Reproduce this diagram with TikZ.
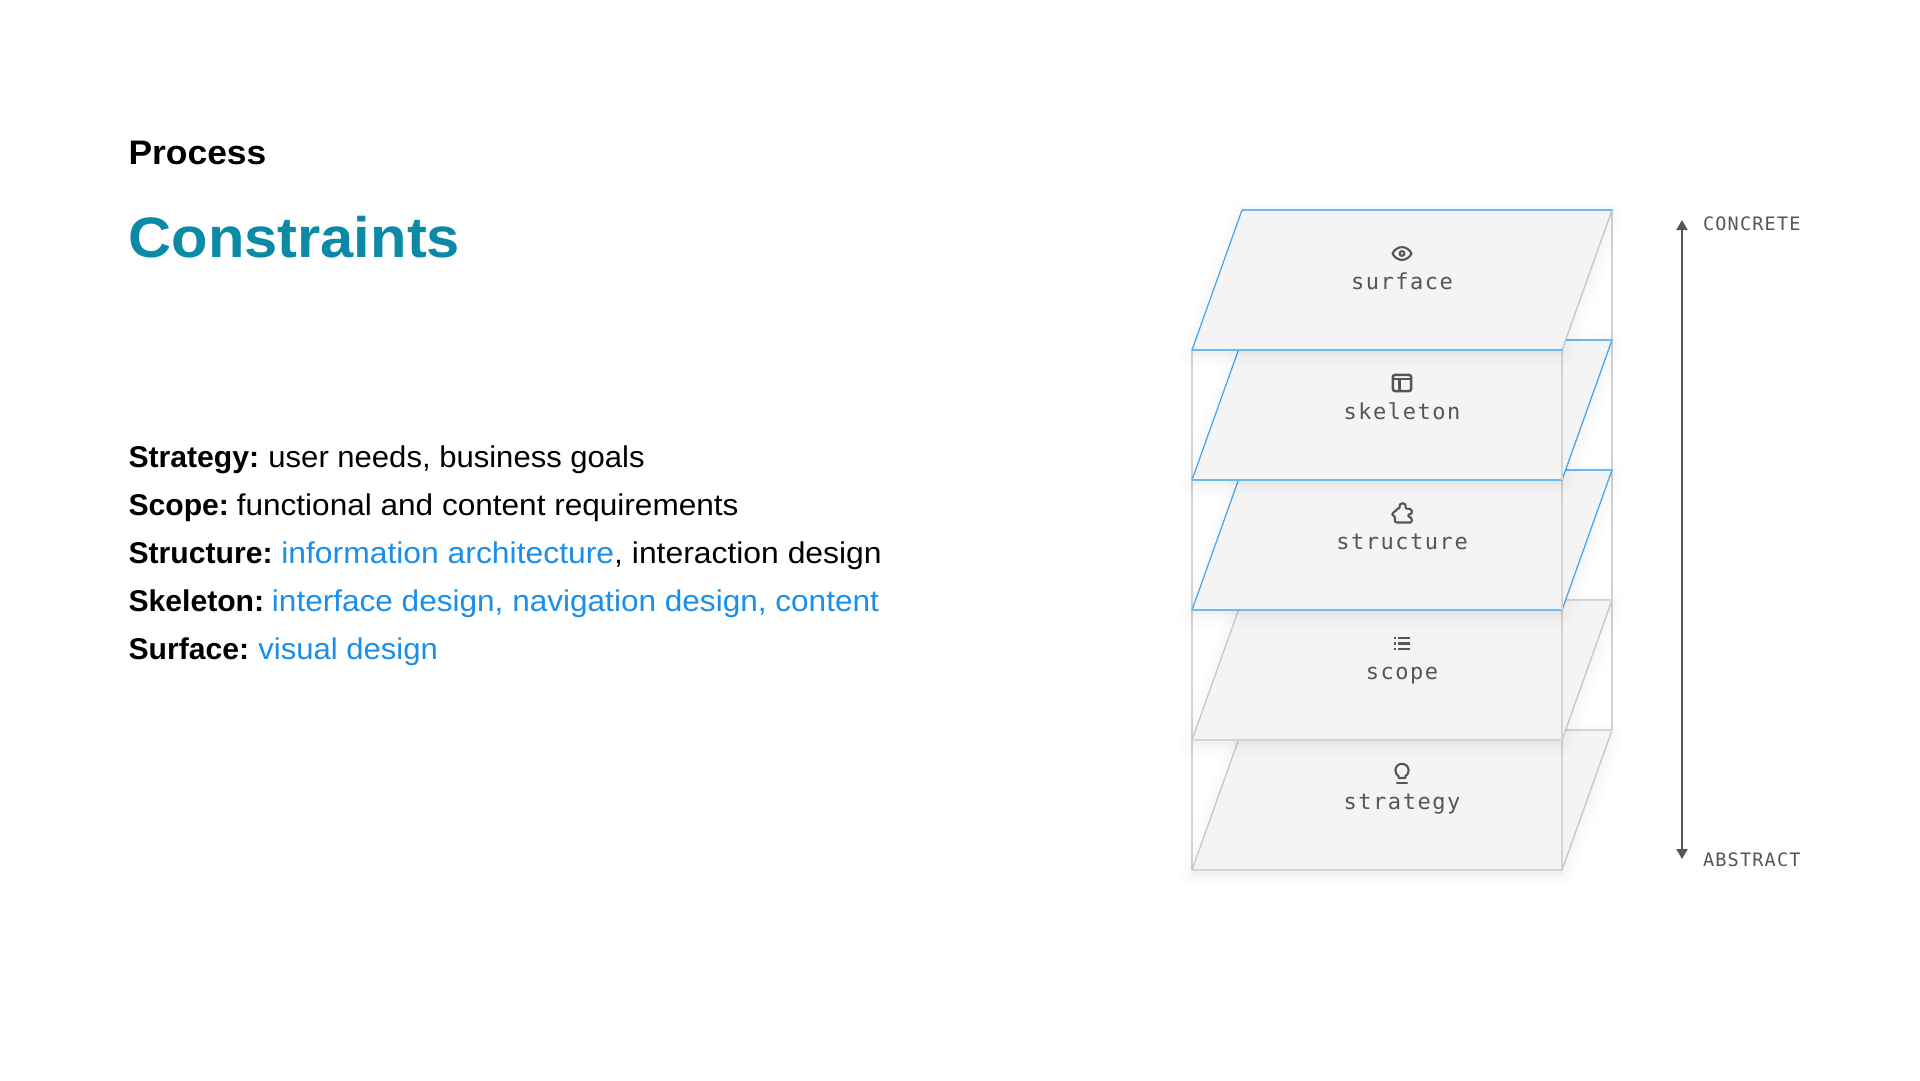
\documentclass[tikz,border=0pt]{standalone}
\usepackage{fontspec}
\usetikzlibrary{arrows.meta}
\setmainfont{Liberation Sans}[FakeStretch=1.052]
\newfontfamily\narrowf{Liberation Sans}[FakeStretch=1.035]
\newfontfamily\widef{Liberation Sans}[FakeStretch=1.062]
\newfontfamily\headf{Liberation Sans Bold}[FakeStretch=1.042]
\newfontfamily\titlef{Liberation Sans Bold}[FakeStretch=1.047]
\newfontfamily\strongf{Liberation Sans Bold}[FakeStretch=1.005]
\newfontfamily\monof{DejaVu Sans Mono}[LetterSpace=7]
\newfontfamily\monoc{DejaVu Sans Mono}[LetterSpace=6.5]
\newcommand{\lead}[1]{{\strongf #1}\kern-1pt\ }
\definecolor{teal1}{HTML}{0A8AA5}
\definecolor{link1}{HTML}{1A8FEA}
\definecolor{ink1}{HTML}{555555}
\definecolor{planefill}{HTML}{F4F4F4}
\definecolor{edgegray}{HTML}{D4D4D4}
\definecolor{diaggray}{HTML}{C4C4C4}
\definecolor{edgeblue}{HTML}{6CB8F0}
\definecolor{diagblue}{HTML}{45A3EE}
\tikzset{
  x=1pt,y=-1pt,
  txt/.style={anchor=base west,inner sep=0pt,outer sep=0pt},
  heading/.style={txt,font=\fontsize{34}{40}\selectfont\headf},
  title/.style={txt,font=\fontsize{57}{64}\selectfont\titlef,text=teal1},
  body/.style={txt,font=\fontsize{30}{36}\selectfont},
  layerlabel/.style={anchor=base,inner sep=0pt,outer sep=0pt,font=\fontsize{22}{26}\selectfont\monof,text=ink1},
  axislabel/.style={txt,font=\fontsize{18.5}{22}\selectfont\monoc,text=ink1},
  boxedge/.style={draw=edgegray,line width=1.6pt},
  horiz/.style={line width=2pt},
  diag/.style={line width=1.2pt},
  icon/.style={draw=ink1,line width=2.1pt,line cap=round,line join=round},
  axis/.style={draw=ink1,line width=2pt,{Triangle[length=10pt,width=11pt]}-{Triangle[length=10pt,width=11pt]}}
}
\newcommand{\shadowof}[1]{%
  \foreach \w in {4,8,...,28}{
    \path[draw=black,fill=black,draw opacity=.004,fill opacity=.004,line width=\w pt,line join=round]
      (1192,#1+145) -- (1242,#1+5) -- (1612,#1+5) -- (1562,#1+145) -- cycle;
  }%
}
% args: top y, horizontal colour, left diagonal colour, right diagonal colour
\newcommand{\layerplane}[4]{%
  \shadowof{#1}
  \fill[planefill] (1192,#1+140) -- (1242,#1) -- (1612,#1) -- (1562,#1+140) -- cycle;
  \draw[#3,diag] (1192,#1+140) -- (1242,#1);
  \draw[#4,diag] (1612,#1) -- (1562,#1+140);
  \draw[#2,horiz,line cap=round] (1242,#1) -- (1612,#1);
  \draw[#2,horiz,line cap=round] (1192,#1+140) -- (1562,#1+140);
}
\begin{document}
\begin{tikzpicture}
\useasboundingbox (0,0) rectangle (1920,1080);
\fill[white] (0,0) rectangle (1920,1080);

\node[heading] (process) at (128.5,164) {Process};
\node[title] (constraints) at (128.5,257) {Constraints};

\node[body] (l1) at (128.5,467) {\lead{Strategy:}\kern1.5pt{\narrowf user needs, business goals}};
\node[body] (l2) at (128.5,515) {\lead{Scope:}functional and content requirements};
\node[body] (l3) at (128.5,563) {\lead{Structure:}\kern1pt{\widef\textcolor{link1}{information architecture}, interaction design}};
\node[body] (l4) at (128.5,611) {\lead{Skeleton:}\textcolor{link1}{interface design, navigation design, content}};
\node[body] (l5) at (128.5,659) {\lead{Surface:}\kern1.5pt{\narrowf\textcolor{link1}{visual design}}};

% back edges of the stack
\coordinate (bl) at (1192,350); \coordinate (blb) at (1192,870);
\coordinate (br) at (1612,210); \coordinate (brb) at (1612,730);
\draw[boxedge] (bl) -- (blb);
\draw[boxedge] (br) -- (brb);

% layers, bottom first
\layerplane{730}{edgegray}{diaggray}{diaggray}
\coordinate (s1) at (1562,740); \coordinate (s2) at (1562,870); \draw[boxedge] (s1) -- (s2);
\layerplane{600}{edgegray}{diaggray}{diaggray}
\coordinate (s3) at (1562,610); \draw[boxedge] (s3) -- (s1);
\layerplane{470}{edgeblue}{diagblue}{diagblue}
\coordinate (s4) at (1562,480); \draw[boxedge] (s4) -- (s3);
\layerplane{340}{edgeblue}{diagblue}{diagblue}
\coordinate (s5) at (1562,350); \draw[boxedge] (s5) -- (s4);
\layerplane{210}{edgeblue}{diagblue}{diaggray}

% labels
\node[layerlabel] (surface) at (1402,289) {surface};
\node[layerlabel] (skeleton) at (1402,419) {skeleton};
\node[layerlabel] (structure) at (1402,549) {structure};
\node[layerlabel] (scope) at (1402,679) {scope};
\node[layerlabel] (strategy) at (1402,809) {strategy};

% eye icon
\begin{scope}[shift={(1402,253.5)}]
  \draw[icon] (-9.6,0) .. controls (-5,-8.5) and (5,-8.5) .. (9.6,0) .. controls (5,8.5) and (-5,8.5) .. (-9.6,0) -- cycle;
  \draw[icon] (0,0) circle (2.4pt);
\end{scope}
% layout icon
\begin{scope}[shift={(1402,383)}]
  \draw[icon,rounded corners=2.5pt,line width=2.5pt] (-9.2,-8.2) rectangle (9.2,8.2);
  \draw[icon] (-9.2,-4) -- (9.2,-4);
  \draw[icon] (-2.5,-4) -- (-2.5,8.2);
\end{scope}
% puzzle icon
\begin{scope}[shift={(1402,513)}]
  \draw[icon] (-5,9.5) -- (8,9.5) .. controls (9.4,9.5) and (9.8,8.5) .. (9.8,7) .. controls (9.8,5) and (8.5,4) .. (6.8,3.6)
     .. controls (5.8,3) and (6,1.8) .. (7,1.6) .. controls (9,1.4) and (10.2,0) .. (10,-1.6) .. controls (9.8,-3.6) and (8,-4.6) .. (5,-4.4)
     .. controls (3.6,-4.4) and (3.2,-5) .. (3.6,-6) .. controls (4.4,-8) and (2.6,-9.8) .. (0.6,-9.8) .. controls (-1.6,-9.8) and (-3.2,-8) .. (-2.4,-6)
     .. controls (-2,-5) and (-3,-4.6) .. (-4,-4.4) -- (-9,0) .. controls (-10,1) and (-10,1.8) .. (-9,2.4)
     -- (-7.4,3.4) .. controls (-6.6,4) and (-6.8,5) .. (-7.2,6) .. controls (-7.8,8) and (-7,9.5) .. (-5,9.5) -- cycle;
\end{scope}
% list icon
\begin{scope}[shift={(1402,643.5)}]
  \foreach \yy in {-5.2,0,5.2}{
    \draw[icon,line cap=butt] (-4,\yy) -- (8,\yy);
    \draw[icon,line cap=butt] (-8,\yy) -- (-6.2,\yy);
  }
\end{scope}
% bulb icon
\begin{scope}[shift={(1402,771)}]
  \draw[icon] (-3.4,7) -- (3.4,7) -- (3.4,5.2) .. controls (5.5,3.6) and (6.6,2) .. (6.6,-0.6) .. controls (6.6,-4.4) and (3.6,-7.2) .. (0,-7.2) .. controls (-3.6,-7.2) and (-6.6,-4.4) .. (-6.6,-0.6) .. controls (-6.6,2) and (-5.5,3.6) .. (-3.4,5.2) -- cycle;
  \draw[icon] (-5,11.6) -- (5,11.6);
\end{scope}

% axis
\coordinate (axistop) at (1682,220);
\coordinate (axisbot) at (1682,859);
\draw[axis] (axistop) -- (axisbot);
\node[axislabel] (concrete) at (1703,230) {CONCRETE};
\node[axislabel] (abstract) at (1703,866) {ABSTRACT};
\end{tikzpicture}
\end{document}
